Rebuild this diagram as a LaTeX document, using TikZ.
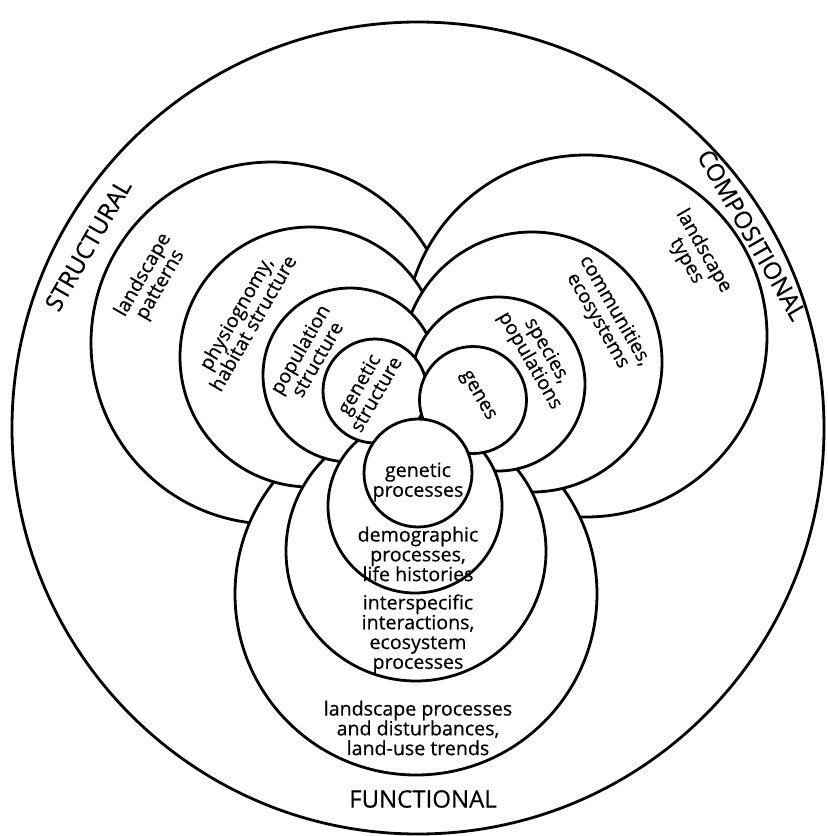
\documentclass[tikz,border=0pt]{standalone}
\usepackage{fontspec}
\setmainfont{Open Sans}[FakeBold=0.4]

\begin{document}
\begin{tikzpicture}[x=0.5pt,y=0.5pt,line width=1.4pt]
\tikzstyle{ring}=[draw=black,fill=white]
\tikzstyle{lbl}=[align=center,inner sep=0pt,font=\fontsize{9.8}{9.9}\selectfont]
\tikzstyle{aspect}=[inner sep=0pt,font=\fontsize{12}{12}\selectfont]

\useasboundingbox (0,0) rectangle (827,-836);
\draw (418,-428) circle (406);

% rings, one level of each family in turn
\filldraw[ring] (272,-343) circle (181);
\filldraw[ring] (586,-336) circle (181);
\filldraw[ring] (416,-594) circle (181);
\filldraw[ring] (310,-357) circle (130);
\filldraw[ring] (532,-362) circle (130);
\filldraw[ring] (416,-551) circle (130);
\filldraw[ring] (350,-375) circle (87);
\filldraw[ring] (498,-384) circle (87);
\filldraw[ring] (415,-506) circle (87);
\filldraw[ring] (375,-391) circle (52);
\filldraw[ring] (473,-400) circle (53.5);
\filldraw[ring] (418,-473) circle (54);

\node[aspect,rotate=60]  (ST) at (88,-245)  {STRUCTURAL};
\node[aspect,rotate=-60] (CO) at (752,-235) {COMPOSITIONAL};
\node[aspect]            (FU) at (423,-799) {FUNCTIONAL};

\node[lbl,rotate=60] (S1) at (152,-280) {landscape\\patterns};
\node[lbl,rotate=60] (S2) at (244,-318) {physiognomy,\\habitat structure};
\node[lbl,rotate=60] (S3) at (308,-354) {population\\structure};
\node[lbl,rotate=60] (S4) at (367,-389) {genetic\\structure};

\node[lbl,rotate=-60] (C1) at (695,-256) {landscape\\types};
\node[lbl,rotate=-60] (C2) at (606,-316) {communities,\\ecosystems};
\node[lbl,rotate=-60] (C3) at (538,-356) {species,\\populations};
\node[lbl,rotate=-60] (C4) at (477,-396) {genes};

\node[lbl] (F4) at (418,-482) {genetic\\processes};
\node[lbl] (F3) at (418,-554) {demographic\\processes,\\life histories};
\node[lbl] (F2) at (418,-634) {interspecific\\interactions,\\ecosystem\\processes};
\node[lbl] (F1) at (418,-728) {landscape processes\\and disturbances,\\land-use trends};
\end{tikzpicture}
\end{document}
